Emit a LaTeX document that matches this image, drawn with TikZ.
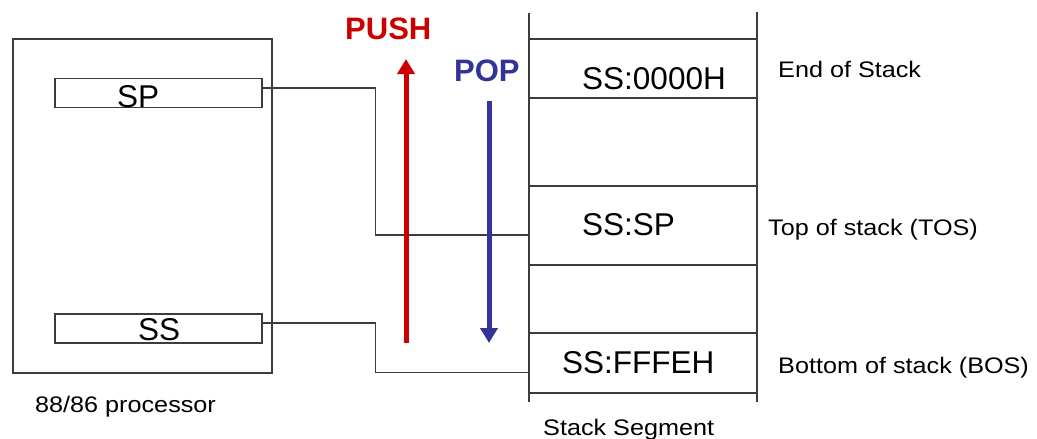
\documentclass[tikz,border=0pt]{standalone}
\usepackage{fontspec}
\setmainfont{Liberation Sans}
\newfontfamily\widefont[FakeStretch=1.12]{Liberation Sans}
\usetikzlibrary{arrows.meta}
\definecolor{pushred}{RGB}{204,0,0}
\definecolor{popblue}{RGB}{51,51,153}
\definecolor{linegray}{RGB}{60,60,60}
\tikzset{
  frame/.style={draw=linegray, line width=1.1pt},
  regbox/.style={frame, minimum width=207pt, minimum height=29pt, inner sep=0pt},
  cellbox/.style={frame, minimum width=228pt, inner sep=0pt},
  bigtext/.style={inner sep=0pt, anchor=base west, font=\fontsize{31.5}{36}\selectfont},
  smalltext/.style={inner sep=0pt, anchor=base west, font=\widefont\fontsize{22.5}{26}\selectfont},
  optext/.style={inner sep=0pt, anchor=base west, font=\bfseries\fontsize{31}{36}\selectfont},
  wire/.style={draw=linegray, line width=1.1pt},
  oparrow/.style={line width=5pt, -{Triangle[width=17pt,length=15pt]}}
}
\begin{document}
\begin{tikzpicture}[x=1pt, y=-1pt]
\useasboundingbox (0,0) rectangle (1037,439);

% processor with its two registers
\node[frame, minimum width=259pt, minimum height=334pt, inner sep=0pt] (cpu) at (142.5,206) {};
\node[regbox] (sp) at (158.5,93) {};
\node[bigtext] (sptxt) at (117,107) {SP};
\node[regbox] (ss) at (158.5,328.5) {};
\node[bigtext] (sstxt) at (138,340.5) {SS};
\node[smalltext] (cpulbl) at (35,412) {88/86 processor};

% stack segment: side rails and the marked cells
\coordinate (ltop) at (529,13);
\coordinate (lbot) at (529,402);
\coordinate (rtop) at (757,12);
\coordinate (rbot) at (757,402);
\draw[wire] (ltop) -- (lbot);
\draw[wire] (rtop) -- (rbot);
\node[cellbox, minimum height=59pt] (eos) at (643,68.5) {};
\node[cellbox, minimum height=79pt] (tos) at (643,225.5) {};
\node[cellbox, minimum height=60pt] (bos) at (643,363) {};
\node[bigtext] (eostxt) at (582,89) {SS:0000H};
\node[bigtext] (tostxt) at (582,235) {SS:SP};
\node[bigtext] (bostxt) at (562,373) {SS:FFFEH};
\node[smalltext] (seglbl) at (543,435) {Stack Segment};

% descriptions on the right
\node[smalltext] (eoslbl) at (778,77) {End of Stack};
\node[smalltext] (toslbl) at (768,235) {Top of stack (TOS)};
\node[smalltext] (boslbl) at (778,373) {Bottom of stack (BOS)};

% register-to-memory links
\draw[wire] ([yshift=5pt]sp.east) -- ++(113,0) |- ([yshift=-9.5pt]tos.west);
\draw[wire] ([yshift=5.5pt]ss.east) -- ++(113,0) |- ([yshift=-9.5pt]bos.west);

% push / pop directions
\node[optext, text=pushred] (push) at (345,39) {PUSH};
\node[optext, text=popblue] (pop) at (454,81) {POP};
\coordinate (pushbot) at (406,343);
\coordinate (pushtop) at (406,59);
\coordinate (poptop) at (489,101);
\coordinate (popbot) at (489,343);
\draw[oparrow, pushred] (pushbot) -- (pushtop);
\draw[oparrow, popblue] (poptop) -- (popbot);
\end{tikzpicture}
\end{document}
